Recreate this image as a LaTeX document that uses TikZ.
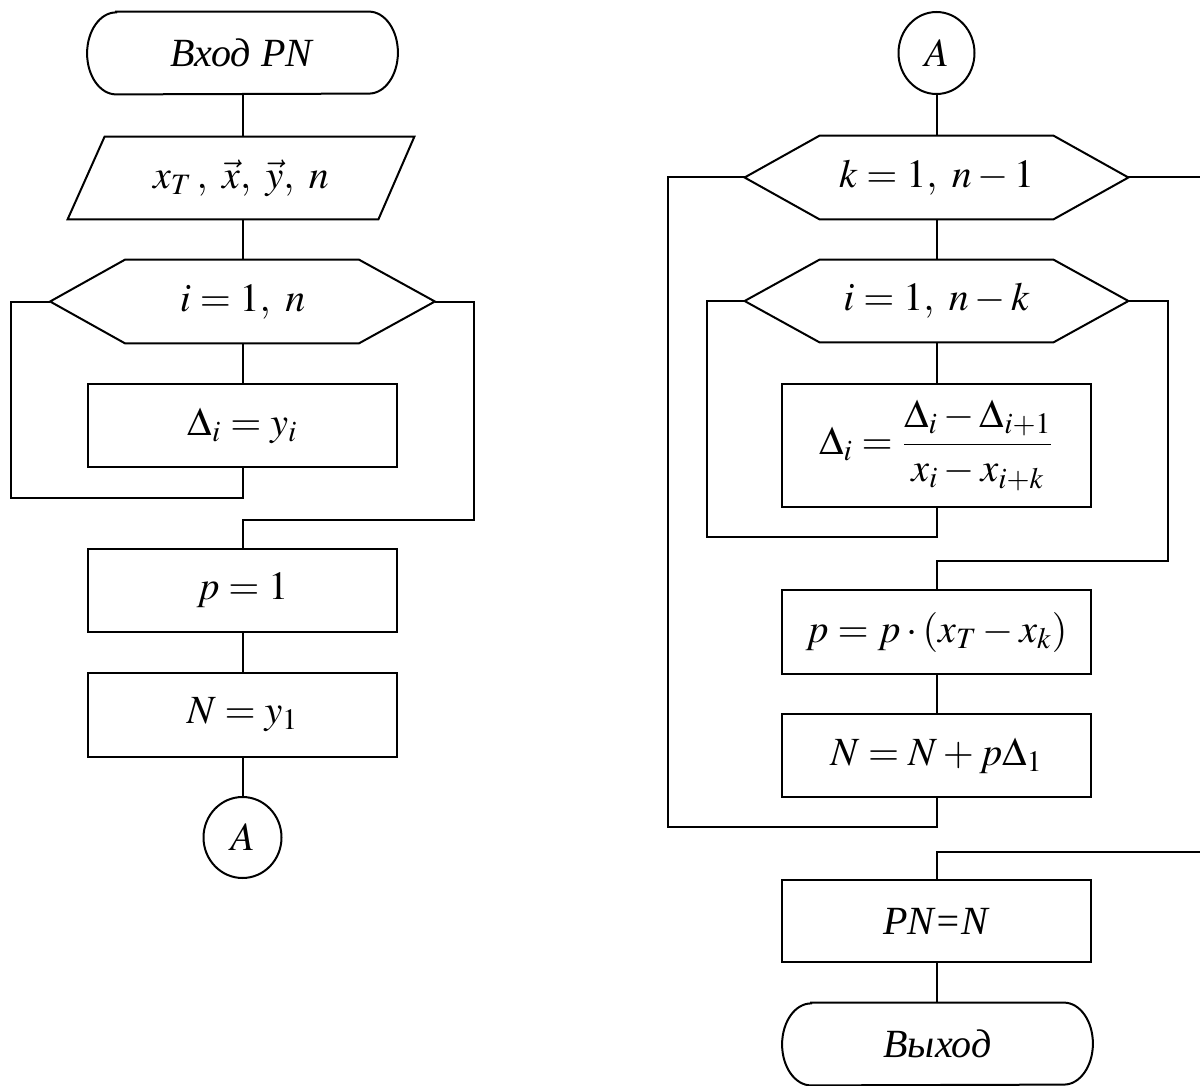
\documentclass[tikz,border=0pt]{standalone}
\usepackage{mathptmx}
\usepackage[no-math]{fontspec}
\setmainfont{Liberation Serif}
\usetikzlibrary{calc,shapes.geometric}
\newcommand\diafont{\fontsize{20}{24}\selectfont}
\tikzset{
  lw/.style={line width=1pt},
  ghost/.style={draw=none, rectangle, inner sep=0pt, font=\diafont},
  box/.style={draw, lw, rectangle, inner sep=0pt, minimum width=154.5pt, minimum height=41.5pt, font=\diafont},
  conn/.style={draw, lw, ellipse, inner sep=0pt, font=\diafont},
  link/.style={lw}
}
\begin{document}
\begin{tikzpicture}[x=0.5pt,y=-0.5pt]
\useasboundingbox (0,0) rectangle (1200,1086);
% ---------- left column ----------
\node[ghost, minimum width=155pt, minimum height=41pt] (start) at (242.5,53) {\textit{Вход PN}};
\draw[lw] ($(start.north west)+(29,0)$) -- ($(start.north east)+(-29,0)$)
  arc[start angle=90, end angle=-90, x radius=14.5pt, y radius=20.5pt]
  -- ($(start.south west)+(29,0)$)
  arc[start angle=270, end angle=90, x radius=14.5pt, y radius=20.5pt] -- cycle;

\node[ghost, minimum width=173pt, minimum height=41pt] (inp) at (241,178) {$x_T\,,\ \vec{x},\ \vec{y},\ n$};
\draw[lw] (inp.south west) -- ($(inp.south east)+(-36,0)$) -- (inp.north east)
  -- ($(inp.north west)+(37,0)$) -- cycle;

\node[ghost, minimum width=192pt, minimum height=41.5pt] (h1) at (242.5,301.5) {$i=1,\ n$};
\draw[lw] (h1.west) -- ($(h1.north west)+(75,0)$) -- ($(h1.north east)+(-76,0)$) -- (h1.east)
  -- ($(h1.south east)+(-76,0)$) -- ($(h1.south west)+(75,0)$) -- cycle;

\node[box] (d1) at (242.5,425.5) {$\Delta_i = y_i$};
\node[box] (p1) at (242.5,590.5) {$p=1$};
\node[box, minimum height=42pt] (n1) at (242.5,715) {$N = y_1$};
\node[conn, minimum width=39pt, minimum height=40.5pt] (a1) at (242.5,837.5) {$A$};

\draw[link] (start.south) -- (start.south |- inp.north);
\draw[link] (start.south |- inp.south) -- (h1.north);
\draw[link] (h1.south) -- (d1.north);
\draw[link] (d1.south) -- ++(0,30) -| ($(h1.west)+(-39,0)$) -- (h1.west);
\draw[link] (h1.east) -- ++(39,0) |- ($(p1.north)+(0,-28)$) -- (p1.north);
\draw[link] (p1.south) -- (n1.north);
\draw[link] (n1.south) -- (a1.north);

% ---------- right column ----------
\node[conn, minimum width=38pt, minimum height=41pt] (a2) at (936.5,53) {$A$};
\node[ghost, minimum width=191.5pt, minimum height=41.5pt] (hk) at (936.5,177.5) {$k=1,\ n-1$};
\draw[lw] (hk.west) -- ($(hk.north west)+(75,0)$) -- ($(hk.north east)+(-75,0)$) -- (hk.east)
  -- ($(hk.south east)+(-75,0)$) -- ($(hk.south west)+(75,0)$) -- cycle;
\node[ghost, minimum width=191.5pt, minimum height=41pt] (hi) at (936.5,301) {$i=1,\ n-k$};
\draw[lw] (hi.west) -- ($(hi.north west)+(75,0)$) -- ($(hi.north east)+(-75,0)$) -- (hi.east)
  -- ($(hi.south east)+(-75,0)$) -- ($(hi.south west)+(75,0)$) -- cycle;

\node[box, minimum height=61.5pt] (df) at (936.5,445.5) {$\Delta_i = {\displaystyle\frac{\Delta_i - \Delta_{i+1}}{x_i - x_{i+k}}}$};
\node[box, minimum height=42pt] (p2) at (936.5,632) {$p = p\cdot (x_T - x_k)$};
\node[box] (n2) at (936.5,755.5) {$N = N + p\Delta_1$};
\node[box, minimum height=41pt] (pn) at (936.5,921) {\textit{PN=N}};
\node[ghost, minimum width=155pt, minimum height=41pt] (fin) at (937.5,1044) {\textit{Выход}};
\draw[lw] ($(fin.north west)+(29,0)$) -- ($(fin.north east)+(-29,0)$)
  arc[start angle=90, end angle=-90, x radius=14.5pt, y radius=20.5pt]
  -- ($(fin.south west)+(29,0)$)
  arc[start angle=270, end angle=90, x radius=14.5pt, y radius=20.5pt] -- cycle;

\coordinate (kr) at (1200,177.5);
\coordinate (ke) at (1200,852);

\draw[link] (a2.south) -- (hk.north);
\draw[link] (hk.south) -- (hi.north);
\draw[link] (hi.south) -- (df.north);
\draw[link] (df.south) -- ++(0,29) -| ($(hi.west)+(-38,0)$) -- (hi.west);
\draw[link] (hi.east) -- ++(40,0) |- ($(p2.north)+(0,-28)$) -- (p2.north);
\draw[link] (p2.south) -- (n2.north);
\draw[link] (n2.south) -- ++(0,29) -| ($(hk.west)+(-77,0)$) -- (hk.west);
\draw[link] (hk.east) -- (kr);
\draw[link] (ke) -| (pn.north);
\draw[link] (pn.south) -- (fin.north -| pn.south);
\end{tikzpicture}
\end{document}
